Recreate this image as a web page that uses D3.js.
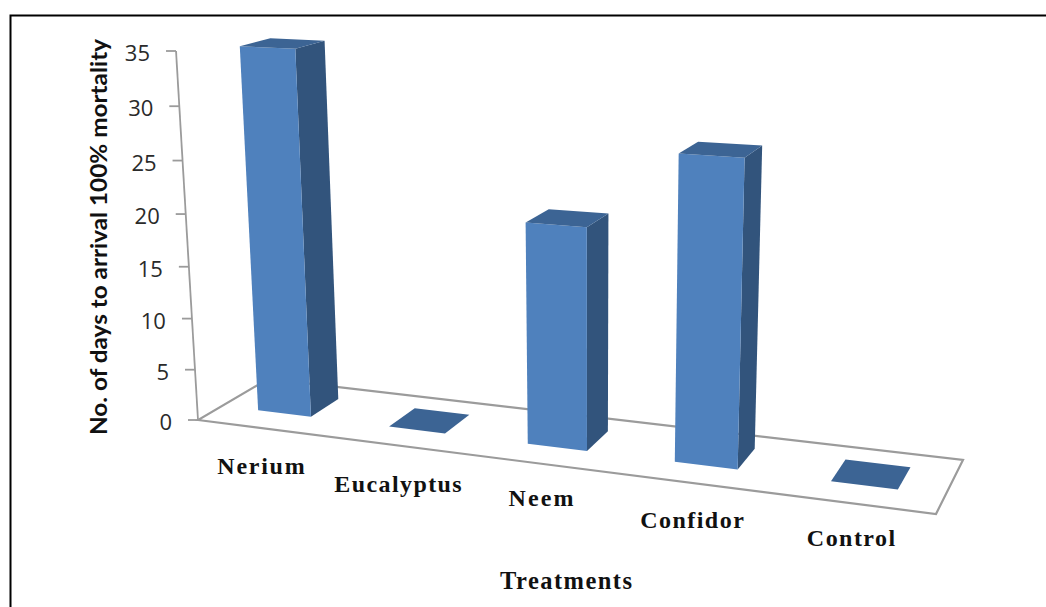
<!DOCTYPE html>
<html><head><meta charset="utf-8">
<script src="https://cdn.jsdelivr.net/npm/d3@7/dist/d3.min.js"></script>
<style>html,body{margin:0;padding:0;background:#fff}svg{display:block}</style>
</head><body><svg id="c" width="1046" height="607"></svg>
<script>
const categories = ["Nerium","Eucalyptus","Neem","Confidor","Control"];
const values = [35,0,20.6,27.6,0];
const tickValues = [0,5,10,15,20,25,30,35];
const yTitle = "No. of days to arrival 100% mortality";
const xTitle = "Treatments";

// perspective frame of the 3-D plot
const floorFL=[198,420], floorFR=[936,514], floorBR=[963,460], floorBL=[268,379];
const wallTop=[176,51], vanish=[592,7035];
const labelPos=[[261,474],[398,492],[541,506],[692,528],[851,546]];

function homography(p00,p10,p11,p01){
  const [x0,y0]=p00,[x1,y1]=p10,[x2,y2]=p11,[x3,y3]=p01;
  const dx1=x1-x2,dx2=x3-x2,sx=x0-x1+x2-x3,dy1=y1-y2,dy2=y3-y2,sy=y0-y1+y2-y3;
  const d=dx1*dy2-dx2*dy1;
  const g=(sx*dy2-dx2*sy)/d,h=(dx1*sy-sx*dy1)/d;
  return {a:x1-x0+g*x1,b:x3-x0+h*x3,c:x0,d:y1-y0+g*y1,e:y3-y0+h*y3,f:y0,g,h};
}
const H=homography(floorFL,floorFR,floorBR,floorBL);
const k=(wallTop[1]-floorFL[1])/(vanish[1]-wallTop[1]);
// (u,v,w) -> pixel; u along the categories, v in depth, w up (0..1)
function project(u,v,w){
  const X=H.a*u+H.b*v+H.c+w*k*vanish[0];
  const Y=H.d*u+H.e*v+H.f+w*k*vanish[1];
  const Z=H.g*u+H.h*v+1+w*k;
  return [X/Z,Y/Z];
}
const xBand=d3.scaleBand().domain(categories).range([0,1]).paddingInner(0.59).paddingOuter(0.285);
const yScale=d3.scaleLinear().domain([0,35]).range([0,1]);
const depthFront=0.33, depthBack=0.75;

const svg=d3.select("#c");
svg.append("path").attr("d","M10.5,607V15.5H1046").attr("fill","none").attr("stroke","#000").attr("stroke-width",2);

const line=d3.line();
const grey="#9b9b9b";
// floor outline
svg.append("path").attr("d",line([floorFL,floorFR,floorBR,floorBL])+"Z")
  .attr("fill","#fff").attr("stroke",grey).attr("stroke-width",2.2);
// value axis
const axisG=svg.append("g");
axisG.append("path").attr("d",line([project(0,0,0),project(0,0,1)])).attr("stroke",grey).attr("stroke-width",1.8).attr("fill","none");
tickValues.forEach(t=>{
  const p=project(0,0,yScale(t));
  axisG.append("line").attr("x1",p[0]-10).attr("y1",p[1]).attr("x2",p[0]).attr("y2",p[1]).attr("stroke",grey).attr("stroke-width",1.8);
  axisG.append("text").attr("x",p[0]-26).attr("y",p[1]+10).attr("text-anchor","end")
    .attr("font-family","'Open Sans'").attr("font-size",22).attr("fill","#2a2a2a").text(t);
});
// bars
const frontColor="#4f81bd", sideColor="#32547c", topColor="#3c6494";
const poly=pts=>line(pts)+"Z";
categories.forEach((c,i)=>{
  const u0=xBand(c),u1=u0+xBand.bandwidth(),w=yScale(values[i]);
  const P=(u,v,h)=>project(u,v,h);
  const g=svg.append("g");
  if(values[i]>0){
    g.append("path").attr("d",poly([P(u1,depthFront,0),P(u1,depthBack,0),P(u1,depthBack,w),P(u1,depthFront,w)])).attr("fill",sideColor);
    g.append("path").attr("d",poly([P(u0,depthFront,0),P(u1,depthFront,0),P(u1,depthFront,w),P(u0,depthFront,w)])).attr("fill",frontColor);
  }
  g.append("path").attr("d",poly([P(u0,depthFront,w),P(u1,depthFront,w),P(u1,depthBack,w),P(u0,depthBack,w)])).attr("fill",topColor);
});
// stretched serif labels, as in the reference
function serif(sel,size){
  sel.attr("text-anchor","middle").attr("font-family","'Liberation Serif'").attr("font-weight","bold")
     .attr("font-size",size).attr("fill","#111");
  const n=sel.node(); const len=n.getComputedTextLength();
  sel.attr("textLength",len*1.11).attr("lengthAdjust","spacing");
  return sel;
}
categories.forEach((c,i)=>{
  serif(svg.append("text").attr("x",labelPos[i][0]).attr("y",labelPos[i][1]).text(c),24);
});
serif(svg.append("text").attr("x",566).attr("y",589).text(xTitle),24.5);
svg.append("text").attr("transform","translate(107,237) rotate(-90)").attr("text-anchor","middle")
   .attr("font-family","Lato").attr("font-weight","bold").attr("font-size",22).attr("textLength",396).attr("lengthAdjust","spacingAndGlyphs").attr("fill","#111").text(yTitle);
</script></body></html>
